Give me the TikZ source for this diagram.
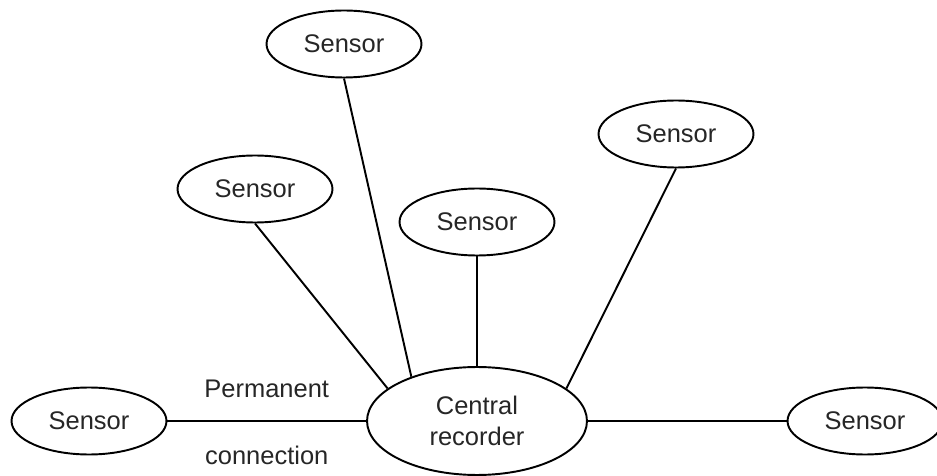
\documentclass[tikz,border=0pt]{standalone}
\usepackage{fontspec}
\setmainfont{Liberation Sans}
\usetikzlibrary{shapes.geometric, positioning}
\tikzset{
  sensor/.style={
    ellipse, draw=black, line width=1.1pt, inner sep=0pt,
    minimum width=3.1cm, minimum height=1.34cm,
    text=black!85, font=\fontsize{14.5}{17.6}\selectfont
  },
  recorder/.style={
    sensor, minimum width=4.4cm, minimum height=2.16cm, align=center
  },
  link/.style={
    line width=1.1pt, color=black
  }
}
\begin{document}
\begin{tikzpicture}[
  x=0.02cm, y=-0.02cm,
  lbl/.style={text=black!85, font=\fontsize{14.5}{17.6}\selectfont}
]
\clip (0,0) rectangle (937,476);
\node[recorder] (rec) at (477,421) {Central\\recorder};
\node[sensor] (top) at (344,44) {Sensor};
\node[sensor] (upleft) at (255,189) {Sensor};
\node[sensor] (mid) at (477,222) {Sensor};
\node[sensor] (upright) at (676,134) {Sensor};
\node[sensor] (west) at (89,421) {Sensor};
\node[sensor] (east) at (865,421) {Sensor};
\draw[link] (top.south) -- (rec.146);
\draw[link] (upleft.south) -- (rec.160);
\draw[link, line width=0.7pt] (mid) -- (rec);
\draw[link] (upright.south) -- (rec.20);
\draw[link] (west) -- node[lbl, yshift=0.64cm] {Permanent} node[lbl, yshift=-0.68cm] {connection} (rec);
\draw[link] (rec) -- (east);
\end{tikzpicture}
\end{document}
